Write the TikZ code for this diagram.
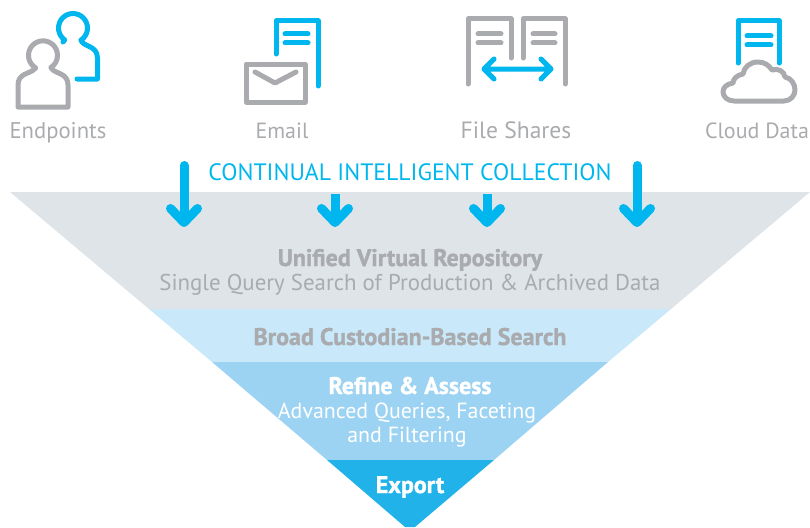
\documentclass[tikz,border=0pt]{standalone}
\usepackage{fontspec}
\setmainfont{PT Sans}
\newfontface\heavyfont{PT Sans Bold}[FakeBold=1.2]
\usetikzlibrary{arrows.meta}
\definecolor{icongray}{HTML}{A9ABAE}
\definecolor{iconblue}{HTML}{00B6EE}
\definecolor{bandrepo}{HTML}{DEE4E8}
\definecolor{bandbroad}{HTML}{C9E9FA}
\definecolor{bandrefine}{HTML}{9DD3F2}
\definecolor{bandexport}{HTML}{21B2E9}
\newcommand{\fsize}[1]{\fontsize{#1}{#1}\selectfont}
\tikzset{
  grayline/.style={draw=icongray,line width=5pt,line cap=round,line join=round},
  blueline/.style={draw=iconblue,line width=5pt,line cap=round,line join=round},
  srclabel/.style={text=icongray,anchor=base,inner sep=0pt,font=\fsize{22}},
  bandtitle/.style={anchor=base,inner sep=0pt,font=\fsize{24}\heavyfont},
  bandtext/.style={anchor=base,inner sep=0pt,font=\fsize{22}},
  flowarrow/.style={draw=iconblue,line width=9pt,line cap=round,
    -{Straight Barb[round,length=14pt,width=27pt,line width=9pt]}},
}
\begin{document}
\begin{tikzpicture}[x=1pt,y=1pt,yscale=-1]
\useasboundingbox (0,0) rectangle (810,527);
% funnel
\fill[bandrepo] (10,192) -- (810,192) -- (671,309) -- (149,309) -- cycle;
\fill[bandbroad] (149,309) -- (671,309) -- (608,362) -- (212,362) -- cycle;
\fill[bandrefine] (212,362) -- (608,362) -- (494,460) -- (327,460) -- cycle;
\fill[bandexport] (327,460) -- (494,460) -- (415,527) -- (405,527) -- cycle;
% endpoints
\draw[blueline] (64.7,39.9) -- (63,42) (64.7,39.9) arc [start angle=125, end angle=417, radius=14.5pt]
  -- (82,42) .. controls (86,47) and (97,46) .. (97.5,58) -- (97.5,79) -- (77,79);
\draw[grayline] (35.75,67.9) arc [start angle=120, end angle=417, radius=14.5pt]
  -- (52,69) .. controls (56,74) and (68,73) .. (68,85) -- (68,107) -- (18,107) -- (18,85)
  .. controls (18,73) and (30,74) .. (34.5,69) -- cycle;
% email
\draw[blueline] (276,54) -- (276,21) -- (318,21) -- (318,86);
\draw[blueline] (285,34) -- (308,34) (285,43) -- (308,43);
\draw[grayline] (246,64) rectangle (305,102);
\draw[grayline] (255,72) -- (275,83) -- (296,72);
% file shares
\draw[grayline] (468,84) -- (468,19) -- (511,19) -- (511,58);
\draw[grayline] (523,58) -- (523,19) -- (565,19) -- (565,84);
\draw[grayline] (478,34) -- (501,34) (478,43) -- (501,43);
\draw[grayline] (533,34) -- (555,34) (533,43) -- (555,43);
\draw[blueline] (494,59) -- (484,69) -- (494,79) (484,69) -- (551,69) (541,59) -- (551,69) -- (541,79);
% cloud data
\draw[blueline] (738,63) -- (738,21) -- (779,21) -- (779,63);
\draw[blueline] (747,36) -- (771,36) (747,45) -- (771,45);
\draw[grayline] (734,101) -- (784,101) .. controls (791,101) and (795,95) .. (795,90)
  .. controls (795,84) and (791,78) .. (785,77)
  .. controls (784,71) and (778,68) .. (772,70)
  .. controls (769,65) and (764,62) .. (758,62)
  .. controls (750,62) and (744,67) .. (743,74)
  .. controls (737,75) and (733,79) .. (733,83)
  .. controls (727,84) and (723,87) .. (723,92)
  .. controls (723,97) and (728,101) .. cycle;
% labels
\node[srclabel,font=\fsize{22.7}] (endpoints) at (58,138) {Endpoints};
\node[srclabel] (email) at (282,138) {Email};
\node[srclabel,font=\fsize{23.6}] (fileshares) at (516,138) {File Shares};
\node[srclabel] (clouddata) at (757,138) {Cloud Data};
\node[anchor=base,text=iconblue,inner sep=0pt,font=\fsize{23.7}] (collection) at (410,180) {CONTINUAL INTELLIGENT COLLECTION};
% arrows
\coordinate (a1) at (184,165.5);
\coordinate (a2) at (335,194);
\coordinate (a3) at (487,194);
\coordinate (a4) at (637,165.5);
\coordinate (b1) at (184,227);
\coordinate (b2) at (335,227);
\coordinate (b3) at (487,227);
\coordinate (b4) at (637,227);
\draw[flowarrow] (a1) -- (b1);
\draw[flowarrow,line cap=butt] (a2) -- (b2);
\draw[flowarrow,line cap=butt] (a3) -- (b3);
\draw[flowarrow] (a4) -- (b4);
% band texts
\node[bandtitle,text=icongray] (repo) at (410,266) {Unified Virtual Repository};
\node[bandtext,text=icongray,font=\fsize{22.85}] (query) at (410,290) {Single Query Search of Production \& Archived Data};
\node[bandtitle,text=icongray] (broad) at (410,345) {Broad Custodian-Based Search};
\node[bandtitle,text=white] (refine) at (410,394) {Refine \& Assess};
\node[bandtext,text=white,font=\fsize{21.9}] (advanced) at (407,418) {Advanced Queries, Faceting};
\node[bandtext,text=white,font=\fsize{21.9}] (filtering) at (407,442) {and Filtering};
\node[bandtitle,text=white] (export) at (410,493) {Export};
\end{tikzpicture}
\end{document}
